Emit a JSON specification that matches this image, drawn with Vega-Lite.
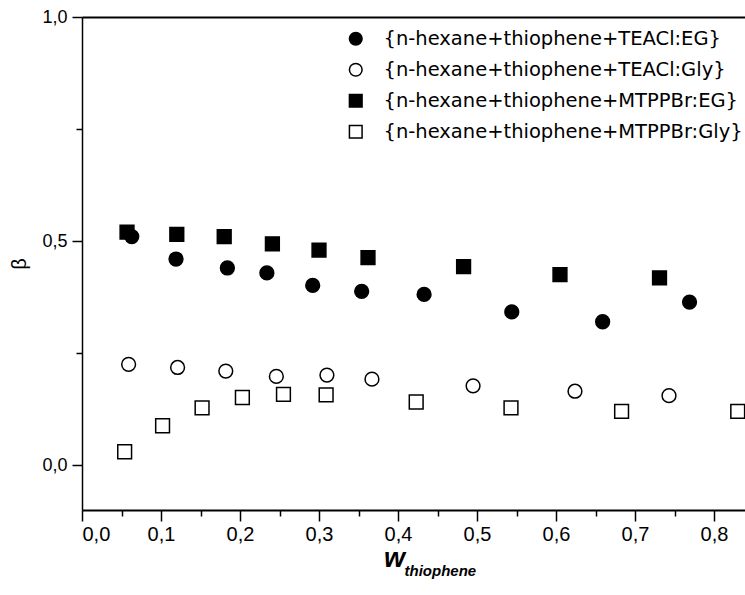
{
  "$schema": "https://vega.github.io/schema/vega-lite/v6.json",
  "width": 663,
  "height": 493,
  "autosize": {"type": "none"},
  "padding": {"left": 82, "top": 17, "right": 0, "bottom": 85},
  "background": "white",
  "config": {
    "view": {"stroke": null},
    "locale": {"number": {"decimal": ",", "thousands": ".", "grouping": [3], "currency": ["", ""]}},
    "axis": {"domainColor": "black", "tickColor": "black", "labelColor": "black", "titleColor": "black", "grid": false, "labelFont": "Liberation Sans", "titleFont": "Liberation Sans"}
  },
  "data": {
    "values": [
      {"series": "{n-hexane+thiophene+TEACl:EG}", "w": 0.063, "b": 0.510},
      {"series": "{n-hexane+thiophene+TEACl:EG}", "w": 0.119, "b": 0.460},
      {"series": "{n-hexane+thiophene+TEACl:EG}", "w": 0.184, "b": 0.440},
      {"series": "{n-hexane+thiophene+TEACl:EG}", "w": 0.234, "b": 0.429},
      {"series": "{n-hexane+thiophene+TEACl:EG}", "w": 0.292, "b": 0.401},
      {"series": "{n-hexane+thiophene+TEACl:EG}", "w": 0.354, "b": 0.388},
      {"series": "{n-hexane+thiophene+TEACl:EG}", "w": 0.433, "b": 0.381},
      {"series": "{n-hexane+thiophene+TEACl:EG}", "w": 0.544, "b": 0.342},
      {"series": "{n-hexane+thiophene+TEACl:EG}", "w": 0.659, "b": 0.320},
      {"series": "{n-hexane+thiophene+TEACl:EG}", "w": 0.769, "b": 0.364},
      {"series": "{n-hexane+thiophene+TEACl:Gly}", "w": 0.059, "b": 0.225},
      {"series": "{n-hexane+thiophene+TEACl:Gly}", "w": 0.121, "b": 0.218},
      {"series": "{n-hexane+thiophene+TEACl:Gly}", "w": 0.182, "b": 0.210},
      {"series": "{n-hexane+thiophene+TEACl:Gly}", "w": 0.246, "b": 0.198},
      {"series": "{n-hexane+thiophene+TEACl:Gly}", "w": 0.310, "b": 0.201},
      {"series": "{n-hexane+thiophene+TEACl:Gly}", "w": 0.367, "b": 0.192},
      {"series": "{n-hexane+thiophene+TEACl:Gly}", "w": 0.495, "b": 0.177},
      {"series": "{n-hexane+thiophene+TEACl:Gly}", "w": 0.624, "b": 0.165},
      {"series": "{n-hexane+thiophene+TEACl:Gly}", "w": 0.743, "b": 0.155},
      {"series": "{n-hexane+thiophene+MTPPBr:EG}", "w": 0.057, "b": 0.520},
      {"series": "{n-hexane+thiophene+MTPPBr:EG}", "w": 0.120, "b": 0.515},
      {"series": "{n-hexane+thiophene+MTPPBr:EG}", "w": 0.180, "b": 0.510},
      {"series": "{n-hexane+thiophene+MTPPBr:EG}", "w": 0.241, "b": 0.494},
      {"series": "{n-hexane+thiophene+MTPPBr:EG}", "w": 0.300, "b": 0.480},
      {"series": "{n-hexane+thiophene+MTPPBr:EG}", "w": 0.362, "b": 0.463},
      {"series": "{n-hexane+thiophene+MTPPBr:EG}", "w": 0.483, "b": 0.443},
      {"series": "{n-hexane+thiophene+MTPPBr:EG}", "w": 0.605, "b": 0.425},
      {"series": "{n-hexane+thiophene+MTPPBr:EG}", "w": 0.731, "b": 0.418},
      {"series": "{n-hexane+thiophene+MTPPBr:Gly}", "w": 0.054, "b": 0.030},
      {"series": "{n-hexane+thiophene+MTPPBr:Gly}", "w": 0.102, "b": 0.088},
      {"series": "{n-hexane+thiophene+MTPPBr:Gly}", "w": 0.152, "b": 0.128},
      {"series": "{n-hexane+thiophene+MTPPBr:Gly}", "w": 0.203, "b": 0.151},
      {"series": "{n-hexane+thiophene+MTPPBr:Gly}", "w": 0.255, "b": 0.158},
      {"series": "{n-hexane+thiophene+MTPPBr:Gly}", "w": 0.309, "b": 0.157},
      {"series": "{n-hexane+thiophene+MTPPBr:Gly}", "w": 0.423, "b": 0.141},
      {"series": "{n-hexane+thiophene+MTPPBr:Gly}", "w": 0.543, "b": 0.128},
      {"series": "{n-hexane+thiophene+MTPPBr:Gly}", "w": 0.683, "b": 0.120},
      {"series": "{n-hexane+thiophene+MTPPBr:Gly}", "w": 0.830, "b": 0.120}
    ]
  },
  "layer": [
    {
      "mark": {"type": "point", "filled": true, "size": 190, "strokeWidth": 1.5, "opacity": 1},
      "encoding": {
        "x": {
          "field": "w", "type": "quantitative",
          "scale": {"domain": [0, 0.8392], "nice": false, "zero": false},
          "axis": {
            "orient": "bottom",
            "values": [0, 0.05, 0.1, 0.15, 0.2, 0.25, 0.3, 0.35, 0.4, 0.45, 0.5, 0.55, 0.6, 0.65, 0.7, 0.75, 0.8],
            "format": ".1f",
            "labelExpr": "round(datum.value*100) % 10 == 0 ? datum.label : ''",
            "tickSize": {"condition": {"test": "round(datum.value*100) % 10 != 0", "value": 6}, "value": 11},
            "tickWidth": 1.5,
            "domainWidth": 2,
            "labelFontSize": 20,
            "labelPadding": 3,
            "title": "w",
            "titleFontSize": 27,
            "titleFontStyle": "italic",
            "titleFontWeight": "bold",
            "titleX": 312,
            "titleY": 56,
            "titleAlign": "center",
            "titleBaseline": "alphabetic"
          }
        },
        "y": {
          "field": "b", "type": "quantitative",
          "scale": {"domain": [-0.1, 1.0], "nice": false, "zero": false},
          "axis": {
            "values": [0, 0.25, 0.5, 0.75, 1.0],
            "format": ".1f",
            "labelExpr": "(datum.value == 0.25 || datum.value == 0.75) ? '' : datum.label",
            "tickSize": {"condition": {"test": "datum.value == 0.25 || datum.value == 0.75", "value": 6}, "value": 10},
            "tickWidth": 1.5,
            "domainWidth": 1.5,
            "labelFontSize": 18,
            "labelPadding": 5,
            "title": "β",
            "titleFontSize": 20,
            "titleFontWeight": "normal",
            "titlePadding": 12
          }
        },
        "shape": {
          "field": "series", "type": "nominal",
          "scale": {
            "domain": ["{n-hexane+thiophene+TEACl:EG}", "{n-hexane+thiophene+TEACl:Gly}", "{n-hexane+thiophene+MTPPBr:EG}", "{n-hexane+thiophene+MTPPBr:Gly}"],
            "range": ["circle", "circle", "square", "square"]
          },
          "legend": {
            "orient": "none", "legendX": 264, "legendY": 12, "title": null,
            "labelFont": "DejaVu Sans", "labelFontSize": 19.5, "labelColor": "black", "labelLimit": 500,
            "symbolSize": 160, "symbolStrokeWidth": 1.5,
            "labelOffset": 18, "rowPadding": 10
          }
        },
        "fill": {
          "field": "series", "type": "nominal",
          "scale": {
            "domain": ["{n-hexane+thiophene+TEACl:EG}", "{n-hexane+thiophene+TEACl:Gly}", "{n-hexane+thiophene+MTPPBr:EG}", "{n-hexane+thiophene+MTPPBr:Gly}"],
            "range": ["black", "white", "black", "white"]
          }
        },
        "stroke": {
          "field": "series", "type": "nominal",
          "scale": {
            "domain": ["{n-hexane+thiophene+TEACl:EG}", "{n-hexane+thiophene+TEACl:Gly}", "{n-hexane+thiophene+MTPPBr:EG}", "{n-hexane+thiophene+MTPPBr:Gly}"],
            "range": ["black", "black", "black", "black"]
          }
        }
      }
    },
    {
      "mark": {"type": "point", "opacity": 0},
      "encoding": {
        "x": {
          "field": "w", "type": "quantitative",
          "scale": {"domain": [0, 0.8392], "nice": false, "zero": false},
          "axis": {
            "orient": "top", "ticks": false, "labels": false, "domainWidth": 2,
            "title": "thiophene", "titleFontSize": 15, "titleFontStyle": "italic", "titleFontWeight": "bold",
            "titleX": 322, "titleY": 558, "titleAlign": "left", "titleBaseline": "alphabetic", "titleAngle": 0
          }
        },
        "y": {"field": "b", "type": "quantitative"}
      }
    }
  ],
  "resolve": {"axis": {"x": "independent"}}
}
